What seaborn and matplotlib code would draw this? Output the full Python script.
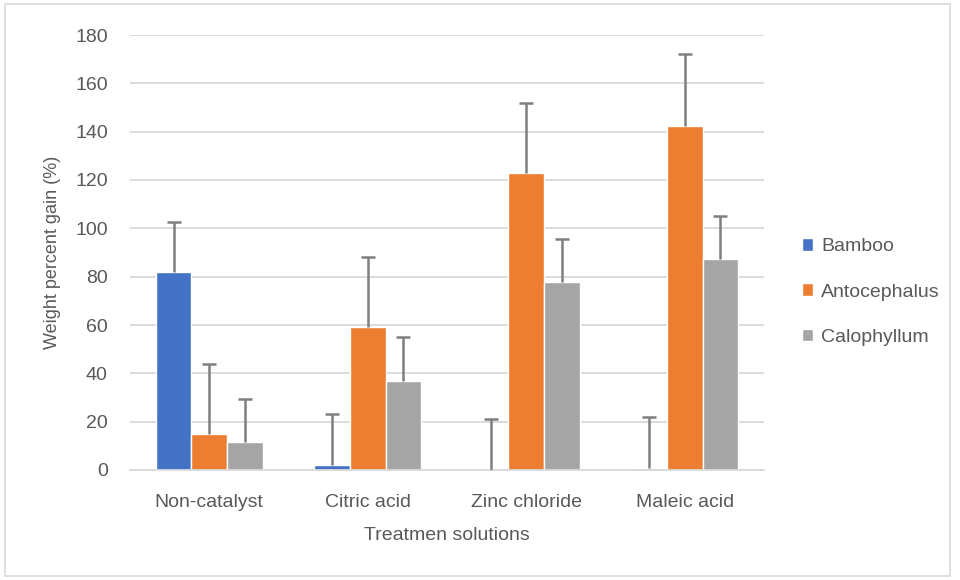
import numpy as np
import pandas as pd
import matplotlib
matplotlib.use('Agg')
import matplotlib.pyplot as plt
from matplotlib.patches import Rectangle
import seaborn as sns

treatments = ['Non-catalyst', 'Citric acid', 'Zinc chloride', 'Maleic acid']
species = ['Bamboo', 'Antocephalus', 'Calophyllum']
bamboo = [82, 2, 0, 0.8]
antocephalus = [15, 59, 123, 142.5]
calophyllum = [11.7, 37, 78, 87.3]
bamboo_err = [20.5, 21, 21, 21]
antocephalus_err = [29, 29, 29, 29.5]
calophyllum_err = [17.5, 18, 17.5, 17.7]

colors = ['#4472c4', '#ed7d31', '#a5a5a5']
txt = '#595959'

df = pd.DataFrame({
    'Treatment': treatments * 3,
    'Species': np.repeat(species, len(treatments)),
    'Gain': bamboo + antocephalus + calophyllum,
})
errs = [bamboo_err, antocephalus_err, calophyllum_err]

sns.set_style('white')
plt.rcParams['font.family'] = ['Liberation Sans', 'DejaVu Sans']

fig = plt.figure(figsize=(9.6, 5.8), dpi=100)
ax = fig.add_axes([130 / 960, 110 / 580, 634 / 960, 435 / 580])

sns.barplot(data=df, x='Treatment', y='Gain', hue='Species', order=treatments,
            hue_order=species, palette=colors, width=0.675, gap=0,
            errorbar=None, saturation=1, ax=ax, zorder=2)

# plus-only error bars, like the Excel original
for cont, e in zip(ax.containers, errs):
    xs = [b.get_x() + b.get_width() / 2 for b in cont]
    ys = [b.get_height() for b in cont]
    eb = ax.errorbar(xs, ys, yerr=[np.zeros(len(e)), e], fmt='none',
                     ecolor='#7f7f7f', elinewidth=1.8, capsize=5, capthick=1.8, zorder=3)
    eb[1][0].set_visible(False)

ax.set_ylim(0, 180)
ax.set_yticks(range(0, 181, 20))
ax.set_xlim(-0.5, 3.5)
ax.yaxis.grid(True, color='#d9d9d9', linewidth=1.3, zorder=0)
ax.set_axisbelow(True)
for s in ['top', 'right', 'left']:
    ax.spines[s].set_visible(False)
ax.spines['bottom'].set_color('#d9d9d9')
ax.spines['bottom'].set_linewidth(1.3)
ax.tick_params(axis='both', length=0, labelsize=14, colors=txt)
ax.tick_params(axis='x', pad=17)
ax.tick_params(axis='y', pad=16)
ax.set_xlabel('Treatmen solutions', fontsize=14, color=txt, labelpad=12)
ax.set_ylabel('Weight percent gain (%)', fontsize=13, color=txt, labelpad=10)

ax.legend(loc='center left', bbox_to_anchor=(792 / 960, (580 - 292) / 580),
          bbox_transform=fig.transFigure, frameon=False,
          fontsize=14, labelcolor=txt, handlelength=0.6, handleheight=0.6,
          handletextpad=0.4, labelspacing=1.45, borderpad=0)

fig.patches.append(Rectangle((5 / 960, 4 / 580), 945 / 960, 572 / 580,
                             transform=fig.transFigure, fill=False,
                             edgecolor='#d9d9d9', linewidth=1.2))

fig.savefig('out.png', dpi=100)
